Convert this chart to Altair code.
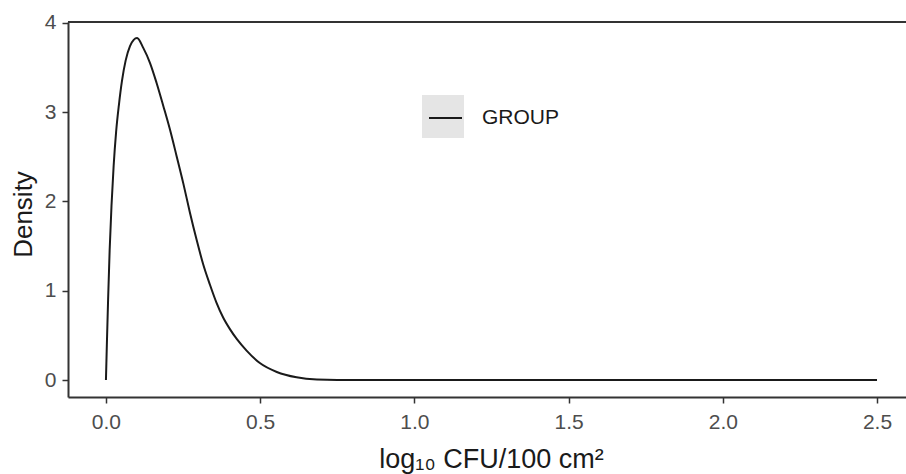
import altair as alt
import pandas as pd

# Density curve (log10 CFU/100 cm^2 vs density)
x_vals = [0.0, 0.003, 0.007, 0.012, 0.018, 0.025, 0.033, 0.042, 0.052, 0.064,
          0.078, 0.090, 0.101, 0.121, 0.143, 0.164, 0.186, 0.208, 0.229, 0.251,
          0.272, 0.294, 0.315, 0.337, 0.358, 0.380, 0.402, 0.424, 0.456, 0.499,
          0.554, 0.618, 0.684, 0.75, 1.0, 1.5, 2.0, 2.5]
density = [0.0, 0.40, 0.90, 1.45, 1.95, 2.40, 2.78, 3.08, 3.35, 3.58,
           3.74, 3.81, 3.83, 3.72, 3.55, 3.33, 3.07, 2.80, 2.51, 2.20,
           1.88, 1.57, 1.30, 1.07, 0.87, 0.70, 0.57, 0.46, 0.33, 0.19,
           0.09, 0.03, 0.005, 0.0, 0.0, 0.0, 0.0, 0.0]
group_name = ["GROUP"] * len(x_vals)

x_ticks = [0.0, 0.5, 1.0, 1.5, 2.0, 2.5]
y_ticks = [0, 1, 2, 3, 4]

df = pd.DataFrame({"x": x_vals, "density": density, "group": group_name})
one = pd.DataFrame({"k": [0]})

W, H = 838, 375
FONT = "Liberation Sans"
AXIS_COL = "#333333"

line = alt.Chart(df).mark_line(strokeWidth=2, interpolate="monotone").encode(
    x=alt.X("x:Q",
            scale=alt.Scale(domain=[-0.123, 2.594], nice=False, zero=False),
            axis=alt.Axis(values=x_ticks, format=".1f",
                          title="log₁₀ CFU/100 cm²",
                          titleBaseline="alphabetic", titleY=70, titleX=423,
                          titleAlign="center", titleFontSize=27)),
    y=alt.Y("density:Q",
            scale=alt.Scale(domain=[-0.19, 4.01], nice=False, zero=False),
            axis=alt.Axis(values=y_ticks, format="d", title="Density",
                          titleBaseline="alphabetic", titleX=-37, titleY=192,
                          titleAlign="center", titleAngle=270)),
    color=alt.Color("group:N", scale=alt.Scale(range=["#1a1a1a"]),
                    legend=alt.Legend(title=None, orient="none",
                                      legendX=360, legendY=78.5,
                                      symbolType="stroke", symbolSize=1089,
                                      symbolStrokeWidth=2, labelOffset=19,
                                      labelFontSize=21, labelColor="#1a1a1a",
                                      labelFont=FONT, padding=0)),
)

key_bg = alt.Chart(one).mark_rect(color="#e5e5e5").encode(
    x=alt.value(354), x2=alt.value(396), y=alt.value(73), y2=alt.value(116)
)

top_line = alt.Chart(one).mark_rule(color=AXIS_COL, strokeWidth=2).encode(
    x=alt.value(0), x2=alt.value(W), y=alt.value(0)
)

chart = alt.layer(key_bg, top_line, line).properties(
    width=W, height=H,
    autosize=alt.AutoSizeParams(type="none"),
    padding={"left": 68, "top": 22, "right": 0, "bottom": 77},
    background="white",
).configure_view(stroke=None).configure_axis(
    grid=False,
    domainColor=AXIS_COL, domainWidth=2,
    tickColor=AXIS_COL, tickWidth=1.5, tickSize=6,
    labelFont=FONT, labelFontSize=21, labelColor="#4d4d4d", labelPadding=6,
    titleFont=FONT, titleFontSize=26, titleColor="#1a1a1a", titleFontWeight="normal",
).configure_axisX(labelPadding=8)

chart.save("out.html", embed_options={"renderer": "svg", "actions": False})
